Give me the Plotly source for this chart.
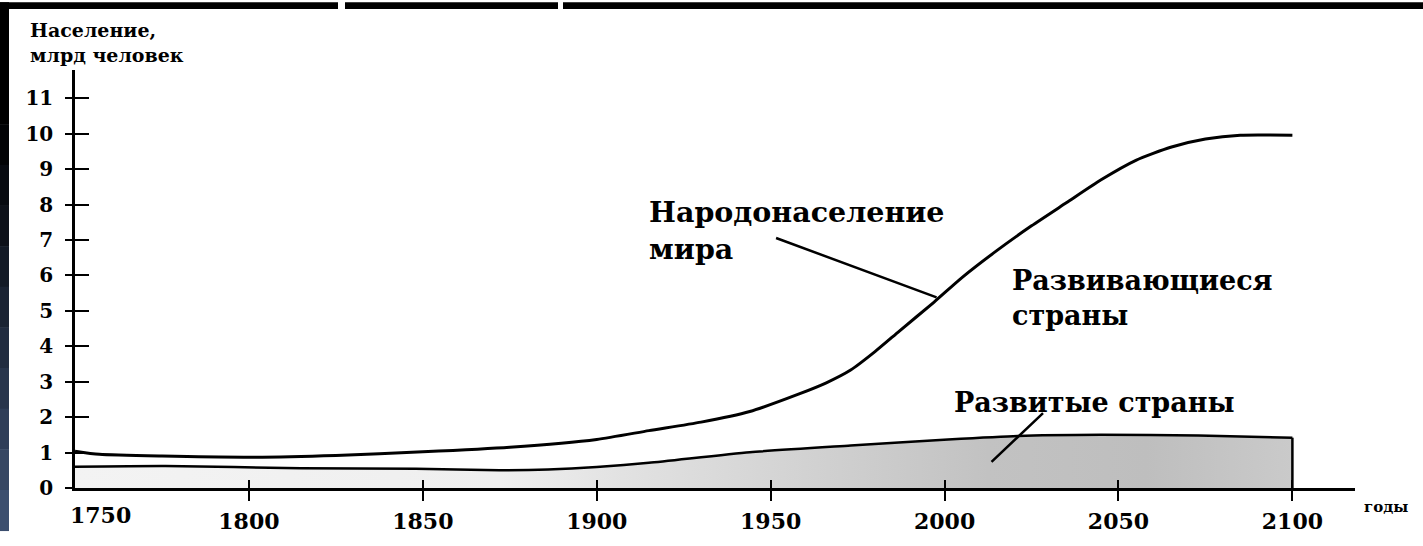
import plotly.graph_objects as go

# ---- data ----
world_years = [1750, 1757, 1775, 1800, 1825, 1850, 1875, 1900, 1915, 1930, 1944,
               1958, 1966, 1973, 1980, 1987, 1997, 2005, 2015, 2025, 2035, 2045,
               2055, 2065, 2075, 2085, 2100]
world_pop = [1.04, 0.95, 0.90, 0.87, 0.92, 1.02, 1.15, 1.37, 1.62, 1.86, 2.16,
             2.65, 2.97, 3.33, 3.85, 4.43, 5.25, 5.94, 6.70, 7.40, 8.05, 8.70,
             9.25, 9.62, 9.85, 9.96, 9.96]

dev_years = [1750, 1776, 1815, 1848, 1872, 1886, 1900, 1915, 1944, 1973, 2001, 2021,
             2045, 2073, 2100]
dev_pop = [0.60, 0.62, 0.56, 0.54, 0.50, 0.52, 0.59, 0.71, 1.01, 1.20, 1.37, 1.47,
           1.50, 1.48, 1.42]

x_ticks = [1800, 1850, 1900, 1950, 2000, 2050, 2100]
y_ticks = list(range(0, 12))

X_RANGE = [1750, 2118]
Y_RANGE = [0, 11.8]

FONT = "DejaVu Serif"

fig = go.Figure()

# developed countries (shaded area)
fig.add_trace(go.Scatter(
    x=dev_years, y=dev_pop, mode="lines", fill="tozeroy",
    line=dict(color="black", width=2.5, shape="spline", smoothing=0.6),
    fillgradient=dict(type="horizontal",
                      colorscale=[[0.0, "#f3f3f3"], [0.35, "#efefef"], [0.45, "#e2e2e2"],
                                  [0.6, "#d2d2d2"], [0.75, "#c2c2c2"], [0.88, "#bebebe"],
                                  [1.0, "#cacaca"]]),
    hoverinfo="skip", showlegend=False))

# closing vertical edge of the developed block at the last year
fig.add_trace(go.Scatter(
    x=[dev_years[-1], dev_years[-1]], y=[0, dev_pop[-1]], mode="lines",
    line=dict(color="black", width=2.5), hoverinfo="skip", showlegend=False))

# world population
fig.add_trace(go.Scatter(
    x=world_years, y=world_pop, mode="lines",
    line=dict(color="black", width=3, shape="spline", smoothing=0.6),
    hoverinfo="skip", showlegend=False))

# invisible trace to activate overlay axes (for crossing ticks)
fig.add_trace(go.Scatter(
    x=[world_years[0]], y=[0], xaxis="x2", yaxis="y2", mode="markers",
    marker=dict(opacity=0), hoverinfo="skip", showlegend=False))

tickfont_x = dict(family=FONT, size=22, color="black", weight="bold")
tickfont_y = dict(family=FONT, size=20, color="black", weight="bold")

fig.update_layout(
    width=1423, height=546,
    margin=dict(l=75, r=68, t=70, b=44, pad=0),
    paper_bgcolor="white", plot_bgcolor="white",
    showlegend=False,
    xaxis=dict(range=X_RANGE, showgrid=False, zeroline=False, showline=True,
               linecolor="black", linewidth=2.5, ticks="outside", ticklen=10,
               tickwidth=2, tickcolor="black", tickvals=x_ticks,
               ticktext=[str(v) for v in x_ticks], tickfont=tickfont_x,
               ticklabelstandoff=2),
    yaxis=dict(range=Y_RANGE, showgrid=False, zeroline=False, showline=True,
               linecolor="black", linewidth=2.5, ticks="outside", ticklen=7,
               tickwidth=2, tickcolor="black", tickvals=y_ticks,
               ticktext=[str(v) for v in y_ticks], tickfont=tickfont_y,
               ticklabelstandoff=8),
    xaxis2=dict(range=X_RANGE, overlaying="x", anchor="y2", side="bottom",
                showgrid=False, zeroline=False, showline=False, ticks="inside",
                ticklen=8, tickwidth=2, tickcolor="black", tickvals=x_ticks,
                showticklabels=False),
    yaxis2=dict(range=Y_RANGE, overlaying="y", anchor="x2", side="left",
                showgrid=False, zeroline=False, showline=False, ticks="inside",
                ticklen=14, tickwidth=2, tickcolor="black", tickvals=y_ticks,
                showticklabels=False),
)

ann = []
# 1750 label (shifted right of the corner as in the original)
ann.append(dict(x=1750, y=0, xref="x", yref="y", text="1750", showarrow=False,
                font=tickfont_x, xanchor="center", yanchor="top", xshift=25, yshift=-12))
# axis titles
ann.append(dict(x=-0.037, y=1.127, xref="paper", yref="paper",
                text="Население,<br>млрд человек", showarrow=False, align="left",
                xanchor="left", yanchor="top",
                font=dict(family=FONT, size=19, color="black", weight="bold")))
ann.append(dict(x=1.0055, y=-0.046, xref="paper", yref="paper", text="годы",
                showarrow=False, xanchor="left", yanchor="middle",
                font=dict(family=FONT, size=15, color="black", weight="bold")))
# labels
lab_font = dict(family=FONT, size=27, color="black", weight="bold")
ann.append(dict(x=1914.4, y=8.33, xref="x", yref="y", text="Народонаселение<br>мира",
                showarrow=False, align="left", xanchor="left", yanchor="top",
                font=dict(family=FONT, size=28.5, color="black", weight="bold")))
ann.append(dict(x=2018.7, y=6.34, xref="x", yref="y", text="Развивающиеся<br>страны",
                showarrow=False, align="left", xanchor="left", yanchor="top", font=lab_font))
ann.append(dict(x=2002, y=2.92, xref="x", yref="y", text="Развитые страны",
                showarrow=False, align="left", xanchor="left", yanchor="top", font=lab_font))
# leader lines
ann.append(dict(x=1997.7, y=5.38, xref="x", yref="y", text="", showarrow=True,
                arrowhead=0, arrowwidth=2.5, arrowcolor="black", ax=-162, ay=-60))
ann.append(dict(x=2013.5, y=0.74, xref="x", yref="y", text="", showarrow=True,
                arrowhead=0, arrowwidth=2.5, arrowcolor="black", ax=53, ay=-50))
fig.update_layout(annotations=ann)

# ---- frame decoration (dark slide border) ----
PL, PT, PW, PH = 75, 70, 1280, 432


def px_x(p):
    return (p - PL) / PW


def px_y(p):
    return (PT + PH - p) / PH


shapes = []
for x0, x1 in [(0, 338), (345, 558), (563, 1423)]:
    shapes.append(dict(type="rect", xref="paper", yref="paper", layer="above",
                       x0=px_x(x0), x1=px_x(x1), y0=px_y(7), y1=px_y(0),
                       fillcolor="black", line=dict(width=0)))
strip_cols = ["#000000", "#000000", "#000000", "#020305", "#070a10", "#0d1119",
              "#131a26", "#1a2333", "#212c40", "#28354c", "#2f3e58", "#364763",
              "#3b4e6e"]
n = len(strip_cols)
for i, c in enumerate(strip_cols):
    y0 = 546 * i / n
    y1 = 546 * (i + 1) / n
    shapes.append(dict(type="rect", xref="paper", yref="paper", layer="above",
                       x0=px_x(0), x1=px_x(9), y0=px_y(y1 + 0.5), y1=px_y(y0),
                       fillcolor=c, line=dict(width=0)))
fig.update_layout(shapes=shapes)

fig.write_html("out.html", config={"displayModeBar": False},
               post_script="document.body.style.margin='0';")
